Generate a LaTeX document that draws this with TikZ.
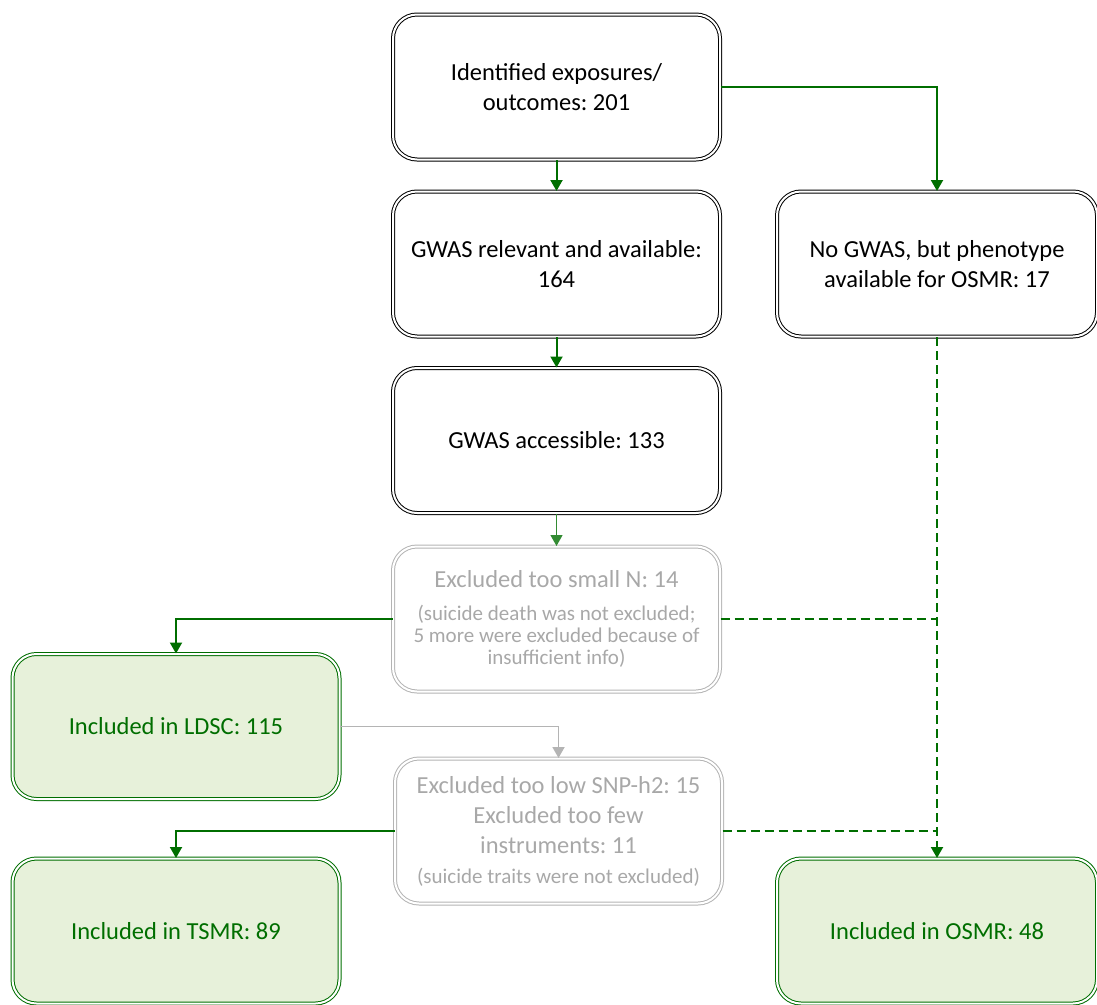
\documentclass[tikz,border=0pt]{standalone}
\usepackage{fontspec}
\setmainfont{Carlito}
\frenchspacing
\usetikzlibrary{arrows.meta}
\definecolor{flowgreen}{RGB}{0,110,0}
\definecolor{incfill}{RGB}{231,241,218}
\definecolor{extext}{RGB}{168,168,168}
\definecolor{exline}{RGB}{180,180,180}
\newcommand{\smalltxt}{\fontsize{21}{24}\selectfont}

\begin{document}
\begin{tikzpicture}[x=1pt,y=-1pt]

    \tikzset{
      box/.style={
        draw,
        double=white,
        double distance=2pt,
        line width=1pt,
        rounded corners=24pt,
        minimum width=327pt,
        minimum height=145pt,
        inner sep=0pt,
        align=center,
        font=\fontsize{24.5}{30}\selectfont,
      },
      exbox/.style={box, draw=exline, text=extext},
      inbox/.style={box, draw=flowgreen, fill=incfill, text=flowgreen},
      flow/.style={flowgreen, line width=2pt, -{Triangle[width=12pt,length=11pt]}},
      dashflow/.style={flow, dash pattern=on 9pt off 5pt},
      dashline/.style={flowgreen, line width=2pt, dash pattern=on 9pt off 5pt},
      greyflow/.style={exline, line width=1.8pt, -{Triangle[width=12pt,length=11pt]}},
    }
    \useasboundingbox (0,0) rectangle (1097,1004);

    % main column
    \node[box] (idf) at (556.5,87) {Identified exposures/\\outcomes: 201};
    \node[box] (rel) at (556.5,264) {GWAS relevant and available:\\164};
    \node[box] (acc) at (556.5,440.5) {GWAS accessible: 133};
    \node[exbox] (smn) at (556.5,619) {Excluded too small N: 14\\[3pt]
      {\smalltxt (suicide death was not excluded;}\\[-8pt]
      {\smalltxt 5 more were excluded because of}\\[-8pt]
      {\smalltxt insufficient info)}};
    \node[exbox] (snp) at (558.5,831) {Excluded too low SNP-h2: 15\\
      Excluded too few\\
      instruments: 11\\[0pt]
      {\smalltxt (suicide traits were not excluded)}};

    % side boxes
    \node[box, minimum width=320pt] (nog) at (937,264) {No GWAS, but phenotype\\available for OSMR: 17};
    \node[inbox] (ldsc) at (176,726.5) {Included in LDSC: 115};
    \node[inbox] (tsmr) at (176,931) {Included in TSMR: 89};
    \node[inbox, minimum width=320pt] (osmr) at (937,931) {Included in OSMR: 48};

    \coordinate (j1) at (smn.east -| nog.south);
    \coordinate (j2) at (snp.east -| nog.south);

    \draw[flow] (idf) -- (rel);
    \draw[flow] (rel) -- (acc);
    \draw[flow, line width=1.2pt, flowgreen!80] (acc) -- (smn);
    \draw[flow] (idf.east) -| (nog.north);
    \draw[flow] (smn.west) -| (ldsc.north);
    \draw[greyflow] (ldsc.east) -| (snp.north);
    \draw[flow] (snp.west) -| (tsmr.north);
    \draw[dashflow] (nog.south) -- (osmr.north);
    \draw[dashline] (smn.east) -- (j1);
    \draw[dashline] (snp.east) -- (j2);

\end{tikzpicture}
\end{document}
